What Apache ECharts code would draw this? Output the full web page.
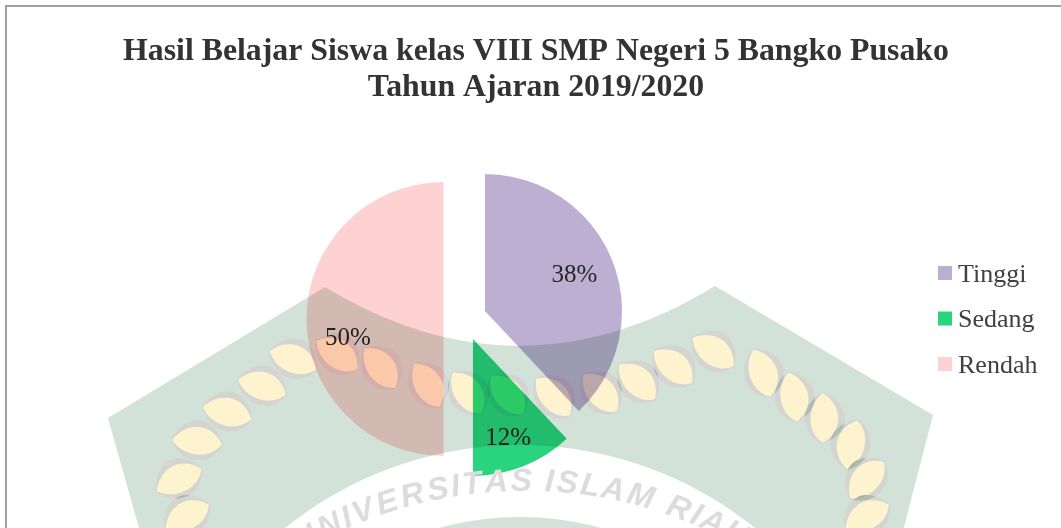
<!DOCTYPE html>
<html>
<head>
<meta charset="utf-8">
<style>html,body{margin:0;padding:0;background:#fff}#c{width:1061px;height:528px}</style>
<script src="https://cdn.jsdelivr.net/npm/echarts@6/dist/echarts.min.js"></script>
</head>
<body>
<div id="c"></div>
<script>
const categories = ['Tinggi', 'Sedang', 'Rendah'];
const percentValues = [38, 12, 50];
const sliceColors = ['#bdafd1', '#2ad47f', '#fed2d2'];
const labelNudges = [[23, -9], [9, 33], [-24, 19]];
const titleLines = ['Hasil Belajar Siswa kelas VIII SMP Negeri 5 Bangko Pusako', 'Tahun Ajaran 2019/2020'];

// Faded emblem behind the chart (decoration only): x, y, rotation in degrees
const emblemLeaves = [
  [187,517,-30],[179,480,-27],[197,442,5],[227,413,14],[262,387,17],[293,360,21],
  [337,355,35],[380,368,52],[427,385,60],[467,393,55],[507,395,50],[553,397,48],
  [600,393,48],[637,382,44],[673,367,40],[713,352,35],[762,373,70],[793,397,80],
  [823,418,90],[852,445,-78],[867,480,-48],[867,517,-30]
];
const emblemLetters = 'UNIVERSITAS ISLAM RIAU'.split('');
const emblemLetterWidths = [.722,.722,.278,.667,.667,.722,.667,.278,.611,.667,.667,.278,.278,.667,.556,.667,.833,.278,.722,.278,.667,.722];

echarts.graphic.registerShape('emblemRings', echarts.graphic.extendShape({
  type: 'emblemRings',
  shape: { rings: [] },
  buildPath(ctx, shape) {
    shape.rings.forEach(r => {
      r.forEach((p, i) => i ? ctx.lineTo(p[0], p[1]) : ctx.moveTo(p[0], p[1]));
      ctx.closePath();
    });
  }
}));

function leafPoints(cx, cy, deg, sx, sy) {
  const L = 50 * sx, W = 27 * sy, a = deg * Math.PI / 180, pts = [];
  const bez = (p0, p1, p2, p3, t) => {
    const u = 1 - t;
    return u*u*u*p0 + 3*u*u*t*p1 + 3*u*t*t*p2 + t*t*t*p3;
  };
  const add = (c1x, c1y, c2x, c2y, x0, x1) => {
    for (let i = 0; i < 14; i++) {
      const t = i / 14;
      pts.push([bez(x0, c1x, c2x, x1, t), bez(0, c1y, c2y, 0, t)]);
    }
  };
  add(-.25*L, -.72*W, .25*L, -.78*W, -L/2, L/2);
  add(.3*L, .62*W, -.25*L, .62*W, L/2, -L/2);
  return pts.map(p => [cx + p[0]*Math.cos(a) - p[1]*Math.sin(a), cy + p[0]*Math.sin(a) + p[1]*Math.cos(a)]);
}
function oriented(pts, clockwise) {
  let area = 0;
  pts.forEach((p, i) => { const q = pts[(i + 1) % pts.length]; area += p[0]*q[1] - q[0]*p[1]; });
  return ((area > 0) === clockwise) ? pts : pts.slice().reverse();
}
function arcPoints(cx, cy, r, from, to) {
  const out = [];
  for (let i = 0; i <= 60; i++) {
    const a = (from + (to - from) * i / 60) * Math.PI / 180;
    out.push([cx + r*Math.sin(a), cy - r*Math.cos(a)]);
  }
  return out;
}
function archPoints(x0, y0, cx, cy, x1, y1) {
  const out = [];
  for (let i = 0; i <= 40; i++) {
    const t = i / 40, u = 1 - t;
    out.push([u*u*x0 + 2*u*t*cx + t*t*x1, u*u*y0 + 2*u*t*cy + t*t*y1]);
  }
  return out;
}
const bandCx = 520, bandCy = 819;
const bandRing = arcPoints(bandCx, bandCy, 374, -52, 52).concat(arcPoints(bandCx, bandCy, 302, 52, -52));
const halo = l => leafPoints(l[0], l[1], l[2], 1.05, 1.45);
const leaf = l => leafPoints(l[0], l[1], l[2], 1, 1);

const outline = [[108, 418]].concat(archPoints(325, 287, 520, 405, 715, 286), [[933, 415], [880, 620], [165, 620]]);
const greenRings = [oriented(outline, true), oriented(bandRing, false)]
  .concat(emblemLeaves.map(l => oriented(halo(l), false)));
const haloRings = [];
emblemLeaves.forEach(l => { haloRings.push(oriented(halo(l), true), oriented(leaf(l), false)); });
const leafRings = emblemLeaves.map(l => leaf(l));

const emblem = [
  { type: 'emblemRings', z: 20, silent: true, shape: { rings: greenRings }, style: { fill: '#d3e2d8', blend: 'multiply' } },
  { type: 'emblemRings', z: 20, silent: true, shape: { rings: haloRings }, style: { fill: '#d4d4d0', blend: 'multiply' } },
  { type: 'emblemRings', z: 20, silent: true, shape: { rings: leafRings }, style: { fill: '#fdf3cf', blend: 'multiply' } }
];
const textCx = 525, textCy = 930, textR = 448;
let cum = 0;
const nCentre = emblemLetterWidths[0] + emblemLetterWidths[1] / 2;
emblemLetters.forEach((ch, i) => {
  const mid = cum + emblemLetterWidths[i] / 2;
  cum += emblemLetterWidths[i];
  if (ch === ' ') return;
  const th = -25.8 * Math.PI / 180 + (mid - nCentre) * 37.7 / textR;
  emblem.push({
    type: 'text', z: 20, silent: true,
    x: textCx + textR*Math.sin(th), y: textCy - textR*Math.cos(th), rotation: -th,
    style: { text: ch, fill: '#dcdcdc', font: 'italic bold 32px "Liberation Sans"', align: 'center', verticalAlign: 'middle' }
  });
});

const frame = [
  { type: 'rect', z: 30, silent: true, shape: { x: 5, y: 5, width: 2, height: 523 }, style: { fill: '#a0a0a0' } },
  { type: 'rect', z: 30, silent: true, shape: { x: 5, y: 5, width: 1056, height: 2 }, style: { fill: '#a0a0a0' } }
];

const chart = echarts.init(document.getElementById('c'), null, { renderer: 'canvas' });
chart.setOption({
  animation: false,
  backgroundColor: '#ffffff',
  title: {
    text: titleLines.join('\n'),
    left: 536, top: 34, textAlign: 'center', padding: 0,
    textStyle: { fontFamily: '"Liberation Serif"', fontWeight: 'bold', fontSize: 31.8, lineHeight: 36, color: '#333333' }
  },
  legend: {
    orient: 'vertical', left: 938, top: 262, padding: 0,
    icon: 'rect', itemWidth: 14, itemHeight: 14, itemGap: 19.5, selectedMode: false,
    data: categories,
    formatter: name => '{t|' + name + '}',
    textStyle: {
      fontFamily: '"Liberation Serif"', fontSize: 26, color: '#404040',
      rich: { t: { fontFamily: '"Liberation Serif"', fontSize: 26, lineHeight: 30, verticalAlign: 'bottom', color: '#404040', padding: [0, 0, 0, 1] } }
    }
  },
  graphic: emblem.concat(frame),
  series: [{
    type: 'pie',
    center: [465, 319],
    radius: 137,
    startAngle: 90,
    selectedMode: 'multiple',
    selectedOffset: 21.5,
    silent: true,
    emphasis: { disabled: true },
    label: {
      show: true, position: 'inside', formatter: '{d}%',
      fontFamily: '"Liberation Serif"', fontSize: 25, color: '#262626'
    },
    labelLine: { show: false },
    labelLayout: p => ({ dx: labelNudges[p.dataIndex][0], dy: labelNudges[p.dataIndex][1] }),
    data: categories.map((name, i) => ({
      name, value: percentValues[i], selected: true,
      itemStyle: { color: sliceColors[i] }
    }))
  }]
});
</script>
</body>
</html>
